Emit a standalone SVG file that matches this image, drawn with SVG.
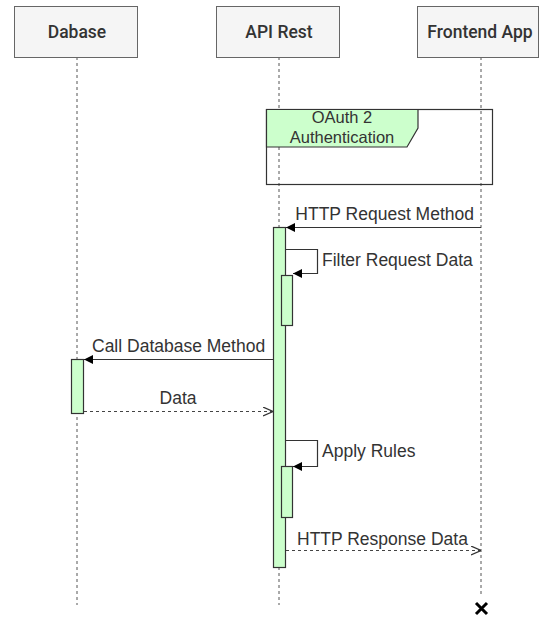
<svg xmlns="http://www.w3.org/2000/svg" width="541" height="619" viewBox="0 0 541 619">
  <style>
    .head { fill: #f5f5f5; stroke: #666666; stroke-width: 1; }
    .head-text { font-family: Roboto, "Liberation Sans", sans-serif; font-weight: 500; font-size: 17.5px; fill: #333333; text-anchor: middle; }
    .life { stroke: #555555; stroke-width: 1; stroke-dasharray: 3 3; fill: none; }
    .act { fill: #ccffcc; stroke: #333333; stroke-width: 1.2; }
    .msg { stroke: #333333; stroke-width: 1.2; fill: none; }
    .ret { stroke: #444444; stroke-width: 1.2; fill: none; stroke-dasharray: 3 3; }
    .lbl { font-family: "Liberation Sans", Arial, sans-serif; font-size: 17.5px; fill: #333333; }
    .frag-lbl { font-family: "Liberation Sans", Arial, sans-serif; font-size: 16.5px; fill: #333333; text-anchor: middle; }
  </style>
  <defs>
    <marker id="block" viewBox="0 0 10 10" refX="10" refY="5" markerWidth="9" markerHeight="9" markerUnits="userSpaceOnUse" orient="auto">
      <path d="M0,0 L10,5 L0,10 Z" fill="#000000"/>
    </marker>
    <marker id="open" viewBox="0 0 10 10" refX="10" refY="5" markerWidth="10" markerHeight="10" markerUnits="userSpaceOnUse" orient="auto">
      <path d="M0,0.5 L10,5 L0,9.5" fill="none" stroke="#333333" stroke-width="1.2"/>
    </marker>
  </defs>

  <!-- lifelines -->
  <g id="lifelines">
    <line class="life" x1="77" y1="57" x2="77" y2="605"/>
    <line class="life" x1="279" y1="57" x2="279" y2="605"/>
    <line class="life" x1="481" y1="57" x2="481" y2="596"/>
  </g>

  <!-- participants -->
  <g id="dabase">
    <rect class="head" x="14.5" y="6.5" width="123" height="51"/>
    <text class="head-text" x="77" y="37.5">Dabase</text>
  </g>
  <g id="api-rest">
    <rect class="head" x="216.5" y="6.5" width="123" height="51"/>
    <text class="head-text" x="279" y="37.5">API Rest</text>
  </g>
  <g id="frontend-app">
    <rect class="head" x="417.5" y="6.5" width="121" height="51"/>
    <text class="head-text" x="480" y="37.5">Frontend App</text>
  </g>

  <!-- OAuth fragment -->
  <g id="oauth-fragment">
    <rect x="266.5" y="109.5" width="226" height="75" fill="none" stroke="#333333" stroke-width="1.2"/>
    <polygon points="266.5,109.5 418,109.5 418,128 407,147 266.5,147" fill="#ccffcc" stroke="#333333" stroke-width="1.2"/>
    <text class="frag-lbl" x="342" y="123.3">OAuth 2</text>
    <text class="frag-lbl" x="342" y="142.5">Authentication</text>
  </g>

  <!-- activations -->
  <g id="api-activation">
    <rect class="act" x="273.5" y="227.5" width="12" height="340"/>
  </g>
  <g id="filter-activation">
    <rect class="act" x="281.5" y="275.5" width="11" height="50"/>
  </g>
  <g id="dabase-activation">
    <rect class="act" x="71.5" y="359.5" width="12" height="54"/>
  </g>
  <g id="rules-activation">
    <rect class="act" x="281.5" y="466.5" width="11" height="51"/>
  </g>

  <!-- messages -->
  <g id="connectors">
    <line class="msg" x1="481" y1="227.5" x2="286" y2="227.5" marker-end="url(#block)"/>
    <path class="msg" d="M286,249.5 H317.5 V273.5 H293" marker-end="url(#block)"/>
    <line class="msg" x1="273" y1="359.5" x2="84" y2="359.5" marker-end="url(#block)"/>
    <line class="ret" x1="84" y1="411.5" x2="273" y2="411.5" marker-end="url(#open)"/>
    <path class="msg" d="M286,440.5 H317.5 V466.5 H293" marker-end="url(#block)"/>
    <line class="ret" x1="286" y1="550.5" x2="481" y2="550.5" marker-end="url(#open)"/>
  </g>

  <!-- message labels -->
  <g id="labels">
    <text class="lbl" x="474" y="220" text-anchor="end">HTTP Request Method</text>
    <text class="lbl" x="322" y="266">Filter Request Data</text>
    <text class="lbl" x="92" y="352">Call Database Method</text>
    <text class="lbl" x="178" y="404" text-anchor="middle">Data</text>
    <text class="lbl" x="322" y="457">Apply Rules</text>
    <text class="lbl" x="297" y="545">HTTP Response Data</text>
  </g>

  <!-- destruction mark -->
  <g id="destroy">
    <path d="M476,603 L487,614 M487,603 L476,614" stroke="#000000" stroke-width="3"/>
  </g>
</svg>
